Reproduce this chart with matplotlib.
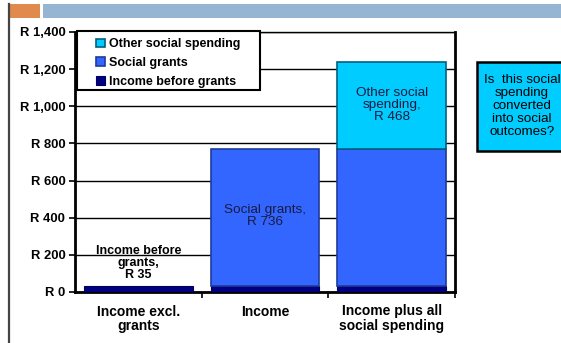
import matplotlib.pyplot as plt
from matplotlib.patches import Rectangle
from matplotlib.lines import Line2D

plt.rcParams['font.family'] = ['Liberation Sans', 'DejaVu Sans']

categories = ['Income excl.\ngrants', 'Income', 'Income plus all\nsocial spending']
income_before = [35, 35, 35]
social_grants = [0, 736, 736]
other_social = [0, 0, 468]
yticks = [0, 200, 400, 600, 800, 1000, 1200, 1400]
ytick_labels = ['R 0', 'R 200', 'R 400', 'R 600', 'R 800', 'R 1,000', 'R 1,200', 'R 1,400']

navy = '#000080'
blue = '#3366FF'
cyan = '#00CCFF'

fig = plt.figure(figsize=(5.61, 3.43), dpi=100)

# slide decoration: left rule and header strips
fig.add_artist(Line2D([9 / 561, 9 / 561], [0, 1 - 4 / 343], color='#444444', lw=1.6))
fig.add_artist(Rectangle((10 / 561, 1 - 18 / 343), 30 / 561, 14 / 343, color='#E08A4E', lw=0))
fig.add_artist(Rectangle((43 / 561, 1 - 18 / 343), 1, 14 / 343, color='#95B5D3', lw=0))

ax = fig.add_axes([75 / 561, 1 - 292 / 343, 380 / 561, 260 / 343])
x = range(len(categories))
w = 0.86
ax.bar(x, income_before, w, color=navy, edgecolor='#000060', lw=0.8,
       label='Income before grants', zorder=3)
ax.bar(x[1:], social_grants[1:], w, bottom=income_before[1:], color=blue,
       edgecolor='#1F3A99', lw=1.2, label='Social grants', zorder=3)
bottom3 = [a + b for a, b in zip(income_before, social_grants)]
ax.bar(x[2:], other_social[2:], w, bottom=bottom3[2:], color=cyan,
       edgecolor='#006080', lw=1.2, label='Other social spending', zorder=3)

ax.set_xlim(-0.5, 2.5)
ax.set_ylim(0, 1400)
ax.set_yticks(yticks)
ax.set_yticklabels(ytick_labels, fontsize=9.4, fontweight='bold')
ax.yaxis.grid(True, color='black', lw=1.0, zorder=0)
ax.set_xticks([0.5, 1.5, 2.5])
ax.set_xticklabels([])
ax.set_xticks(list(x), minor=True)
ax.set_xticklabels(categories, minor=True, fontsize=10, fontweight='bold',
                   linespacing=1.08)
ax.tick_params(axis='x', which='minor', length=0, pad=9)
ax.tick_params(axis='x', which='major', length=4, width=1.2, direction='out')
ax.tick_params(axis='y', length=4, width=1.2, direction='out', pad=3)
for s in ['left', 'right', 'bottom']:
    ax.spines[s].set_linewidth(2)
ax.spines['top'].set_linewidth(1)

ax.text(0, income_before[0] + 22,
        'Income before\ngrants,\nR %d' % income_before[0],
        ha='center', va='bottom', fontsize=9, fontweight='bold', linespacing=1.0)
ax.text(1, 410,
        'Social grants,\nR %d' % social_grants[1],
        ha='center', va='center', fontsize=9.7, color='#1a1a40', linespacing=1.0)
ax.text(2, 1007,
        'Other social\nspending,\nR %d' % other_social[2],
        ha='center', va='center', fontsize=9.7, color='#1a1a40', linespacing=1.0)

# legend: entries without frame, box drawn separately
handles, labels = ax.get_legend_handles_labels()
ax.add_patch(Rectangle((0.005, 0.777), 0.482, 0.227, transform=ax.transAxes,
                       fc='white', ec='black', lw=1.5, zorder=5, clip_on=False))
leg = ax.legend(handles[::-1], labels[::-1], loc='upper left',
                bbox_to_anchor=(0.04, 1.0), frameon=False,
                handlelength=0.7, handleheight=0.7, handletextpad=0.3,
                borderpad=0.0, labelspacing=0.55,
                prop={'weight': 'bold', 'size': 9})
leg.set_zorder(6)

# question box on the right, running off the edge
fig.add_artist(Rectangle((477 / 561, 1 - 151 / 343), 100 / 561, 89 / 343,
                         fc=cyan, ec='black', lw=1.8))
fig.text(522 / 561, 1 - 106 / 343,
         'Is  this social\nspending\nconverted\ninto social\noutcomes?',
         ha='center', va='center', multialignment='center', fontsize=9.6,
         linespacing=1.1)

fig.savefig('out.png', dpi=100)
